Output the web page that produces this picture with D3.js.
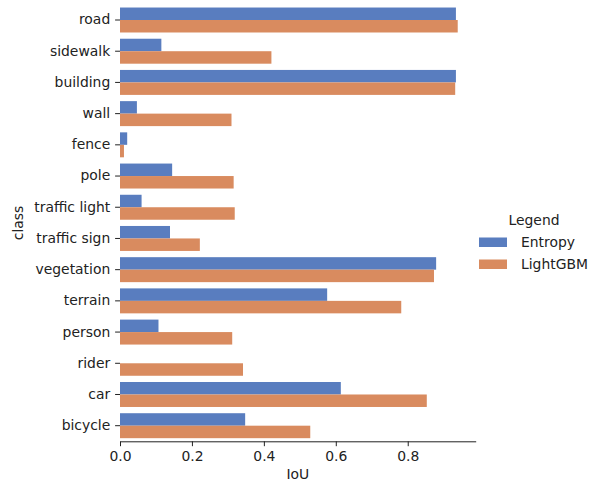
<!DOCTYPE html>
<html>
<head>
<meta charset="utf-8">
<script src="https://cdn.jsdelivr.net/npm/d3@7"></script>
<style>
  body { margin: 0; background: #fff; }
  svg text { font-family: "DejaVu Sans", sans-serif; fill: #222; }
</style>
</head>
<body>
<div id="chart"></div>
<script>
// data
var classes = ["road", "sidewalk", "building", "wall", "fence", "pole", "traffic light",
    "traffic sign", "vegetation", "terrain", "person", "rider", "car", "bicycle"];
var entropy = [0.934, 0.115, 0.934, 0.047, 0.020, 0.145, 0.060, 0.139, 0.879, 0.576, 0.107, 0.0, 0.614, 0.348];
var lightgbm = [0.939, 0.421, 0.932, 0.310, 0.011, 0.316, 0.319, 0.222, 0.873, 0.782, 0.312, 0.342, 0.853, 0.529];
var seriesNames = ["Entropy", "LightGBM"];
var colors = ["#597dbf", "#d98b5f"];
var xTicks = [0, 0.2, 0.4, 0.6, 0.8];

var width = 589, height = 484;
var fs = 13.9;

var svg = d3.select("#chart").append("svg")
    .attr("width", width)
    .attr("height", height);

var x = d3.scaleLinear().domain([0, 0.989]).range([120, 475.7]);
var y = d3.scaleBand().domain(classes).range([4.4, 441.3])
    .paddingInner(0.2).paddingOuter(0.1);
var hue = d3.scaleBand().domain(seriesNames).range([0, y.bandwidth()]);

var rows = classes.map(function (c, i) {
    return {cls: c, vals: [entropy[i], lightgbm[i]]};
});

// bars
var g = svg.append("g");
rows.forEach(function (r) {
    r.vals.forEach(function (v, k) {
        g.append("rect")
            .attr("x", x(0))
            .attr("y", y(r.cls) + hue(seriesNames[k]))
            .attr("width", x(v) - x(0))
            .attr("height", hue.bandwidth())
            .attr("fill", colors[k]);
    });
});

// x axis
var xAxis = svg.append("g")
    .attr("transform", "translate(0," + 441.3 + ")")
    .call(d3.axisBottom(x).tickValues(xTicks).tickFormat(d3.format(".1f")).tickSize(4.9).tickPadding(4.9).tickSizeOuter(0));
xAxis.select(".domain").attr("stroke", "#222").attr("stroke-width", 1);
xAxis.selectAll(".tick line").attr("stroke", "#222").attr("stroke-width", 1);
xAxis.selectAll("text").attr("font-size", fs).style("font-family", "DejaVu Sans").attr("fill", "#222");

// y axis (left spine removed)
var yAxis = svg.append("g")
    .attr("transform", "translate(" + 120 + ",0)")
    .call(d3.axisLeft(y).tickSize(4.9).tickPadding(4.9));
yAxis.select(".domain").remove();
yAxis.selectAll(".tick line").attr("stroke", "#222").attr("stroke-width", 1);
yAxis.selectAll("text").attr("font-size", fs).style("font-family", "DejaVu Sans").attr("fill", "#222");

// axis titles
svg.append("text")
    .attr("x", (120 + 475.7) / 2)
    .attr("y", 479)
    .attr("text-anchor", "middle")
    .attr("font-size", fs)
    .text("IoU");
svg.append("text")
    .attr("transform", "translate(23,223) rotate(-90)")
    .attr("text-anchor", "middle")
    .attr("font-size", fs)
    .text("class");

// legend
var leg = svg.append("g");
leg.append("text")
    .attr("x", 534)
    .attr("y", 225)
    .attr("text-anchor", "middle")
    .attr("font-size", fs)
    .text("Legend");
seriesNames.forEach(function (s, k) {
    leg.append("rect")
        .attr("x", 479)
        .attr("y", 237.5 + k * 22)
        .attr("width", 28)
        .attr("height", 9.5)
        .attr("fill", colors[k]);
    leg.append("text")
        .attr("x", 521)
        .attr("y", 247 + k * 22)
        .attr("font-size", fs)
        .text(s);
});
</script>
</body>
</html>
